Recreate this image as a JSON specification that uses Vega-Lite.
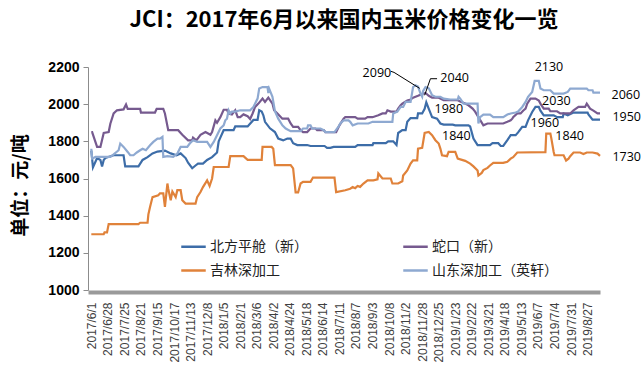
{
"$schema": "https://vega.github.io/schema/vega-lite/v6.json",
"width": 512, "height": 223,
"autosize": {"type": "none"},
"padding": {"left": 88, "top": 67, "right": 43, "bottom": 76},
"background": "white",
"config": {"view": {"stroke": null}},
"title": {"text": "JCI：2017年6月以来国内玉米价格变化一览", "font": "Noto Sans CJK SC", "fontSize": 22, "fontWeight": "bold", "color": "#000000", "frame": "group", "anchor": "middle", "offset": 28},
"datasets": {
"prices": [
{"s":"北方平舱（新）","d":0,"p":1750},{"s":"北方平舱（新）","d":2,"p":1660},{"s":"北方平舱（新）","d":5,"p":1690},{"s":"北方平舱（新）","d":7,"p":1710},{"s":"北方平舱（新）","d":11,"p":1700},{"s":"北方平舱（新）","d":13,"p":1665},{"s":"北方平舱（新）","d":15,"p":1700},{"s":"北方平舱（新）","d":17,"p":1710},{"s":"北方平舱（新）","d":27,"p":1725},{"s":"北方平舱（新）","d":39,"p":1725},{"s":"北方平舱（新）","d":41,"p":1665},{"s":"北方平舱（新）","d":57,"p":1665},{"s":"北方平舱（新）","d":62,"p":1700},{"s":"北方平舱（新）","d":68,"p":1715},{"s":"北方平舱（新）","d":74,"p":1735},{"s":"北方平舱（新）","d":80,"p":1745},{"s":"北方平舱（新）","d":89,"p":1750},{"s":"北方平舱（新）","d":96,"p":1735},{"s":"北方平舱（新）","d":103,"p":1725},{"s":"北方平舱（新）","d":108,"p":1735},{"s":"北方平舱（新）","d":114,"p":1710},{"s":"北方平舱（新）","d":117,"p":1685},{"s":"北方平舱（新）","d":122,"p":1655},{"s":"北方平舱（新）","d":126,"p":1670},{"s":"北方平舱（新）","d":129,"p":1680},{"s":"北方平舱（新）","d":135,"p":1680},{"s":"北方平舱（新）","d":140,"p":1700},{"s":"北方平舱（新）","d":146,"p":1715},{"s":"北方平舱（新）","d":152,"p":1740},{"s":"北方平舱（新）","d":154,"p":1800},{"s":"北方平舱（新）","d":156,"p":1820},{"s":"北方平舱（新）","d":160,"p":1860},{"s":"北方平舱（新）","d":172,"p":1860},{"s":"北方平舱（新）","d":174,"p":1880},{"s":"北方平舱（新）","d":189,"p":1880},{"s":"北方平舱（新）","d":196,"p":1915},{"s":"北方平舱（新）","d":201,"p":1915},{"s":"北方平舱（新）","d":203,"p":1967},{"s":"北方平舱（新）","d":206,"p":1960},{"s":"北方平舱（新）","d":208,"p":1940},{"s":"北方平舱（新）","d":210,"p":1905},{"s":"北方平舱（新）","d":216,"p":1870},{"s":"北方平舱（新）","d":222,"p":1850},{"s":"北方平舱（新）","d":226,"p":1815},{"s":"北方平舱（新）","d":232,"p":1805},{"s":"北方平舱（新）","d":237,"p":1815},{"s":"北方平舱（新）","d":241,"p":1815},{"s":"北方平舱（新）","d":244,"p":1790},{"s":"北方平舱（新）","d":249,"p":1780},{"s":"北方平舱（新）","d":261,"p":1780},{"s":"北方平舱（新）","d":265,"p":1775},{"s":"北方平舱（新）","d":282,"p":1775},{"s":"北方平舱（新）","d":285,"p":1765},{"s":"北方平舱（新）","d":289,"p":1765},{"s":"北方平舱（新）","d":293,"p":1770},{"s":"北方平舱（新）","d":319,"p":1770},{"s":"北方平舱（新）","d":322,"p":1780},{"s":"北方平舱（新）","d":340,"p":1780},{"s":"北方平舱（新）","d":341,"p":1790},{"s":"北方平舱（新）","d":356,"p":1790},{"s":"北方平舱（新）","d":359,"p":1800},{"s":"北方平舱（新）","d":365,"p":1800},{"s":"北方平舱（新）","d":369,"p":1780},{"s":"北方平舱（新）","d":371,"p":1845},{"s":"北方平舱（新）","d":376,"p":1860},{"s":"北方平舱（新）","d":380,"p":1860},{"s":"北方平舱（新）","d":382,"p":1905},{"s":"北方平舱（新）","d":386,"p":1925},{"s":"北方平舱（新）","d":394,"p":1925},{"s":"北方平舱（新）","d":395,"p":1950},{"s":"北方平舱（新）","d":400,"p":1950},{"s":"北方平舱（新）","d":403,"p":1975},{"s":"北方平舱（新）","d":405,"p":2010},{"s":"北方平舱（新）","d":408,"p":1975},{"s":"北方平舱（新）","d":412,"p":1930},{"s":"北方平舱（新）","d":418,"p":1922},{"s":"北方平舱（新）","d":422,"p":1896},{"s":"北方平舱（新）","d":426,"p":1890},{"s":"北方平舱（新）","d":437,"p":1890},{"s":"北方平舱（新）","d":440,"p":1886},{"s":"北方平舱（新）","d":456,"p":1886},{"s":"北方平舱（新）","d":458,"p":1880},{"s":"北方平舱（新）","d":462,"p":1815},{"s":"北方平舱（新）","d":467,"p":1780},{"s":"北方平舱（新）","d":482,"p":1780},{"s":"北方平舱（新）","d":485,"p":1790},{"s":"北方平舱（新）","d":492,"p":1790},{"s":"北方平舱（新）","d":495,"p":1775},{"s":"北方平舱（新）","d":498,"p":1775},{"s":"北方平舱（新）","d":503,"p":1806},{"s":"北方平舱（新）","d":507,"p":1833},{"s":"北方平舱（新）","d":513,"p":1833},{"s":"北方平舱（新）","d":516,"p":1848},{"s":"北方平舱（新）","d":521,"p":1878},{"s":"北方平舱（新）","d":525,"p":1878},{"s":"北方平舱（新）","d":528,"p":1913},{"s":"北方平舱（新）","d":533,"p":1958},{"s":"北方平舱（新）","d":537,"p":1985},{"s":"北方平舱（新）","d":541,"p":1985},{"s":"北方平舱（新）","d":543,"p":1965},{"s":"北方平舱（新）","d":547,"p":1940},{"s":"北方平舱（新）","d":559,"p":1940},{"s":"北方平舱（新）","d":563,"p":1930},{"s":"北方平舱（新）","d":570,"p":1930},{"s":"北方平舱（新）","d":571,"p":1950},{"s":"北方平舱（新）","d":576,"p":1940},{"s":"北方平舱（新）","d":583,"p":1955},{"s":"北方平舱（新）","d":600,"p":1955},{"s":"北方平舱（新）","d":601,"p":1945},{"s":"北方平舱（新）","d":606,"p":1917},{"s":"北方平舱（新）","d":615,"p":1917},
{"s":"蛇口（新）","d":0,"p":1850},{"s":"蛇口（新）","d":1,"p":1850},{"s":"蛇口（新）","d":7,"p":1770},{"s":"蛇口（新）","d":11,"p":1770},{"s":"蛇口（新）","d":15,"p":1845},{"s":"蛇口（新）","d":21,"p":1850},{"s":"蛇口（新）","d":23,"p":1895},{"s":"蛇口（新）","d":27,"p":1950},{"s":"蛇口（新）","d":31,"p":1967},{"s":"蛇口（新）","d":39,"p":1972},{"s":"蛇口（新）","d":42,"p":1998},{"s":"蛇口（新）","d":44,"p":1975},{"s":"蛇口（新）","d":59,"p":1975},{"s":"蛇口（新）","d":60,"p":1955},{"s":"蛇口（新）","d":77,"p":1955},{"s":"蛇口（新）","d":79,"p":1975},{"s":"蛇口（新）","d":87,"p":1975},{"s":"蛇口（新）","d":89,"p":1950},{"s":"蛇口（新）","d":93,"p":1860},{"s":"蛇口（新）","d":105,"p":1860},{"s":"蛇口（新）","d":110,"p":1835},{"s":"蛇口（新）","d":117,"p":1805},{"s":"蛇口（新）","d":122,"p":1805},{"s":"蛇口（新）","d":123,"p":1820},{"s":"蛇口（新）","d":127,"p":1805},{"s":"蛇口（新）","d":132,"p":1835},{"s":"蛇口（新）","d":138,"p":1850},{"s":"蛇口（新）","d":144,"p":1835},{"s":"蛇口（新）","d":146,"p":1850},{"s":"蛇口（新）","d":150,"p":1913},{"s":"蛇口（新）","d":152,"p":1900},{"s":"蛇口（新）","d":156,"p":1930},{"s":"蛇口（新）","d":160,"p":1970},{"s":"蛇口（新）","d":164,"p":1970},{"s":"蛇口（新）","d":166,"p":1950},{"s":"蛇口（新）","d":170,"p":1945},{"s":"蛇口（新）","d":174,"p":1967},{"s":"蛇口（新）","d":177,"p":1930},{"s":"蛇口（新）","d":180,"p":1930},{"s":"蛇口（新）","d":184,"p":1945},{"s":"蛇口（新）","d":189,"p":1935},{"s":"蛇口（新）","d":192,"p":1920},{"s":"蛇口（新）","d":195,"p":1950},{"s":"蛇口（新）","d":198,"p":1985},{"s":"蛇口（新）","d":202,"p":2003},{"s":"蛇口（新）","d":207,"p":2030},{"s":"蛇口（新）","d":210,"p":2012},{"s":"蛇口（新）","d":214,"p":2035},{"s":"蛇口（新）","d":219,"p":2003},{"s":"蛇口（新）","d":221,"p":1967},{"s":"蛇口（新）","d":225,"p":1950},{"s":"蛇口（新）","d":231,"p":1922},{"s":"蛇口（新）","d":238,"p":1922},{"s":"蛇口（新）","d":241,"p":1896},{"s":"蛇口（新）","d":244,"p":1878},{"s":"蛇口（新）","d":250,"p":1878},{"s":"蛇口（新）","d":253,"p":1860},{"s":"蛇口（新）","d":256,"p":1850},{"s":"蛇口（新）","d":261,"p":1850},{"s":"蛇口（新）","d":265,"p":1869},{"s":"蛇口（新）","d":271,"p":1869},{"s":"蛇口（新）","d":273,"p":1860},{"s":"蛇口（新）","d":281,"p":1860},{"s":"蛇口（新）","d":283,"p":1850},{"s":"蛇口（新）","d":296,"p":1850},{"s":"蛇口（新）","d":300,"p":1886},{"s":"蛇口（新）","d":305,"p":1922},{"s":"蛇口（新）","d":307,"p":1930},{"s":"蛇口（新）","d":319,"p":1930},{"s":"蛇口（新）","d":322,"p":1922},{"s":"蛇口（新）","d":331,"p":1922},{"s":"蛇口（新）","d":334,"p":1930},{"s":"蛇口（新）","d":340,"p":1930},{"s":"蛇口（新）","d":347,"p":1940},{"s":"蛇口（新）","d":352,"p":1950},{"s":"蛇口（新）","d":356,"p":1950},{"s":"蛇口（新）","d":358,"p":1967},{"s":"蛇口（新）","d":362,"p":1960},{"s":"蛇口（新）","d":369,"p":1960},{"s":"蛇口（新）","d":371,"p":1976},{"s":"蛇口（新）","d":374,"p":1994},{"s":"蛇口（新）","d":376,"p":2003},{"s":"蛇口（新）","d":382,"p":2020},{"s":"蛇口（新）","d":386,"p":2025},{"s":"蛇口（新）","d":389,"p":2035},{"s":"蛇口（新）","d":395,"p":2045},{"s":"蛇口（新）","d":400,"p":2055},{"s":"蛇口（新）","d":404,"p":2060},{"s":"蛇口（新）","d":408,"p":2045},{"s":"蛇口（新）","d":412,"p":2035},{"s":"蛇口（新）","d":420,"p":2035},{"s":"蛇口（新）","d":426,"p":2021},{"s":"蛇口（新）","d":443,"p":2021},{"s":"蛇口（新）","d":446,"p":2015},{"s":"蛇口（新）","d":452,"p":2003},{"s":"蛇口（新）","d":456,"p":1994},{"s":"蛇口（新）","d":461,"p":1976},{"s":"蛇口（新）","d":464,"p":1960},{"s":"蛇口（新）","d":468,"p":1930},{"s":"蛇口（新）","d":474,"p":1886},{"s":"蛇口（新）","d":479,"p":1896},{"s":"蛇口（新）","d":498,"p":1896},{"s":"蛇口（新）","d":503,"p":1905},{"s":"蛇口（新）","d":507,"p":1913},{"s":"蛇口（新）","d":509,"p":1922},{"s":"蛇口（新）","d":510,"p":1930},{"s":"蛇口（新）","d":515,"p":1950},{"s":"蛇口（新）","d":519,"p":1950},{"s":"蛇口（新）","d":522,"p":1965},{"s":"蛇口（新）","d":525,"p":1976},{"s":"蛇口（新）","d":527,"p":2003},{"s":"蛇口（新）","d":531,"p":2030},{"s":"蛇口（新）","d":537,"p":2030},{"s":"蛇口（新）","d":541,"p":2020},{"s":"蛇口（新）","d":543,"p":2003},{"s":"蛇口（新）","d":547,"p":1976},{"s":"蛇口（新）","d":553,"p":1976},{"s":"蛇口（新）","d":555,"p":1962},{"s":"蛇口（新）","d":563,"p":1962},{"s":"蛇口（新）","d":567,"p":1950},{"s":"蛇口（新）","d":579,"p":1950},{"s":"蛇口（新）","d":583,"p":1967},{"s":"蛇口（新）","d":589,"p":1985},{"s":"蛇口（新）","d":597,"p":1985},{"s":"蛇口（新）","d":599,"p":2003},{"s":"蛇口（新）","d":603,"p":1976},{"s":"蛇口（新）","d":607,"p":1965},{"s":"蛇口（新）","d":612,"p":1950},{"s":"蛇口（新）","d":615,"p":1950},
{"s":"吉林深加工","d":0,"p":1300},{"s":"吉林深加工","d":15,"p":1300},{"s":"吉林深加工","d":16,"p":1310},{"s":"吉林深加工","d":19,"p":1310},{"s":"吉林深加工","d":21,"p":1355},{"s":"吉林深加工","d":57,"p":1355},{"s":"吉林深加工","d":59,"p":1362},{"s":"吉林深加工","d":68,"p":1362},{"s":"吉林深加工","d":69,"p":1407},{"s":"吉林深加工","d":71,"p":1447},{"s":"吉林深加工","d":74,"p":1500},{"s":"吉林深加工","d":81,"p":1510},{"s":"吉林深加工","d":83,"p":1520},{"s":"吉林深加工","d":87,"p":1520},{"s":"吉林深加工","d":89,"p":1447},{"s":"吉林深加工","d":92,"p":1573},{"s":"吉林深加工","d":93,"p":1545},{"s":"吉林深加工","d":96,"p":1483},{"s":"吉林深加工","d":98,"p":1530},{"s":"吉林深加工","d":102,"p":1500},{"s":"吉林深加工","d":104,"p":1537},{"s":"吉林深加工","d":108,"p":1537},{"s":"吉林深加工","d":110,"p":1483},{"s":"吉林深加工","d":114,"p":1465},{"s":"吉林深加工","d":126,"p":1465},{"s":"吉林深加工","d":128,"p":1500},{"s":"吉林深加工","d":132,"p":1527},{"s":"吉林深加工","d":135,"p":1554},{"s":"吉林深加工","d":140,"p":1590},{"s":"吉林深加工","d":143,"p":1560},{"s":"吉林深加工","d":146,"p":1600},{"s":"吉林深加工","d":148,"p":1662},{"s":"吉林深加工","d":166,"p":1662},{"s":"吉林深加工","d":168,"p":1720},{"s":"吉林深加工","d":184,"p":1720},{"s":"吉林深加工","d":189,"p":1700},{"s":"吉林深加工","d":206,"p":1700},{"s":"吉林深加工","d":207,"p":1770},{"s":"吉林深加工","d":218,"p":1770},{"s":"吉林深加工","d":220,"p":1760},{"s":"吉林深加工","d":222,"p":1672},{"s":"吉林深加工","d":241,"p":1672},{"s":"吉林深加工","d":244,"p":1654},{"s":"吉林深加工","d":247,"p":1525},{"s":"吉林深加工","d":250,"p":1525},{"s":"吉林深加工","d":253,"p":1573},{"s":"吉林深加工","d":256,"p":1582},{"s":"吉林深加工","d":265,"p":1582},{"s":"吉林深加工","d":268,"p":1605},{"s":"吉林深加工","d":294,"p":1605},{"s":"吉林深加工","d":296,"p":1527},{"s":"吉林深加工","d":307,"p":1537},{"s":"吉林深加工","d":313,"p":1545},{"s":"吉林深加工","d":316,"p":1554},{"s":"吉林深加工","d":319,"p":1548},{"s":"吉林深加工","d":322,"p":1560},{"s":"吉林深加工","d":325,"p":1555},{"s":"吉林深加工","d":329,"p":1573},{"s":"吉林深加工","d":334,"p":1590},{"s":"吉林深加工","d":341,"p":1590},{"s":"吉林深加工","d":346,"p":1595},{"s":"吉林深加工","d":347,"p":1627},{"s":"吉林深加工","d":352,"p":1600},{"s":"吉林深加工","d":362,"p":1600},{"s":"吉林深加工","d":364,"p":1573},{"s":"吉林深加工","d":371,"p":1573},{"s":"吉林深加工","d":376,"p":1585},{"s":"吉林深加工","d":377,"p":1616},{"s":"吉林深加工","d":382,"p":1643},{"s":"吉林深加工","d":386,"p":1680},{"s":"吉林深加工","d":389,"p":1698},{"s":"吉林深加工","d":394,"p":1698},{"s":"吉林深加工","d":395,"p":1760},{"s":"吉林深加工","d":400,"p":1765},{"s":"吉林深加工","d":403,"p":1845},{"s":"吉林深加工","d":408,"p":1850},{"s":"吉林深加工","d":412,"p":1833},{"s":"吉林深加工","d":416,"p":1806},{"s":"吉林深加工","d":420,"p":1788},{"s":"吉林深加工","d":422,"p":1761},{"s":"吉林深加工","d":424,"p":1725},{"s":"吉林深加工","d":430,"p":1720},{"s":"吉林深加工","d":432,"p":1743},{"s":"吉林深加工","d":440,"p":1743},{"s":"吉林深加工","d":443,"p":1707},{"s":"吉林深加工","d":452,"p":1695},{"s":"吉林深加工","d":458,"p":1680},{"s":"吉林深加工","d":462,"p":1665},{"s":"吉林深加工","d":467,"p":1643},{"s":"吉林深加工","d":468,"p":1616},{"s":"吉林深加工","d":472,"p":1630},{"s":"吉林深加工","d":474,"p":1645},{"s":"吉林深加工","d":479,"p":1657},{"s":"吉林深加工","d":482,"p":1670},{"s":"吉林深加工","d":486,"p":1684},{"s":"吉林深加工","d":498,"p":1684},{"s":"吉林深加工","d":503,"p":1690},{"s":"吉林深加工","d":507,"p":1707},{"s":"吉林深加工","d":510,"p":1715},{"s":"吉林深加工","d":515,"p":1740},{"s":"吉林深加工","d":549,"p":1742},{"s":"吉林深加工","d":550,"p":1842},{"s":"吉林深加工","d":555,"p":1842},{"s":"吉林深加工","d":556,"p":1820},{"s":"吉林深加工","d":559,"p":1743},{"s":"吉林深加工","d":560,"p":1725},{"s":"吉林深加工","d":571,"p":1725},{"s":"吉林深加工","d":574,"p":1697},{"s":"吉林深加工","d":577,"p":1707},{"s":"吉林深加工","d":579,"p":1720},{"s":"吉林深加工","d":583,"p":1740},{"s":"吉林深加工","d":591,"p":1740},{"s":"吉林深加工","d":595,"p":1732},{"s":"吉林深加工","d":599,"p":1740},{"s":"吉林深加工","d":606,"p":1740},{"s":"吉林深加工","d":612,"p":1734},{"s":"吉林深加工","d":615,"p":1722},
{"s":"山东深加工（英轩）","d":0,"p":1760},{"s":"山东深加工（英轩）","d":1,"p":1707},{"s":"山东深加工（英轩）","d":5,"p":1716},{"s":"山东深加工（英轩）","d":23,"p":1716},{"s":"山东深加工（英轩）","d":27,"p":1730},{"s":"山东深加工（英轩）","d":33,"p":1752},{"s":"山东深加工（英轩）","d":35,"p":1788},{"s":"山东深加工（英轩）","d":39,"p":1770},{"s":"山东深加工（英轩）","d":44,"p":1743},{"s":"山东深加工（英轩）","d":47,"p":1725},{"s":"山东深加工（英轩）","d":51,"p":1725},{"s":"山东深加工（英轩）","d":55,"p":1740},{"s":"山东深加工（英轩）","d":59,"p":1752},{"s":"山东深加工（英轩）","d":62,"p":1760},{"s":"山东深加工（英轩）","d":66,"p":1752},{"s":"山东深加工（英轩）","d":71,"p":1779},{"s":"山东深加工（英轩）","d":75,"p":1797},{"s":"山东深加工（英轩）","d":80,"p":1815},{"s":"山东深加工（英轩）","d":83,"p":1815},{"s":"山东深加工（英轩）","d":86,"p":1824},{"s":"山东深加工（英轩）","d":87,"p":1716},{"s":"山东深加工（英轩）","d":92,"p":1720},{"s":"山东深加工（英轩）","d":99,"p":1716},{"s":"山东深加工（英轩）","d":104,"p":1734},{"s":"山东深加工（英轩）","d":108,"p":1770},{"s":"山东深加工（英轩）","d":116,"p":1770},{"s":"山东深加工（英轩）","d":119,"p":1788},{"s":"山东深加工（英轩）","d":123,"p":1806},{"s":"山东深加工（英轩）","d":128,"p":1797},{"s":"山东深加工（英轩）","d":140,"p":1797},{"s":"山东深加工（英轩）","d":144,"p":1770},{"s":"山东深加工（英轩）","d":148,"p":1797},{"s":"山东深加工（英轩）","d":152,"p":1833},{"s":"山东深加工（英轩）","d":156,"p":1869},{"s":"山东深加工（英轩）","d":160,"p":1886},{"s":"山东深加工（英轩）","d":162,"p":1913},{"s":"山东深加工（英轩）","d":164,"p":1922},{"s":"山东深加工（英轩）","d":166,"p":1967},{"s":"山东深加工（英轩）","d":168,"p":1950},{"s":"山东深加工（英轩）","d":170,"p":1960},{"s":"山东深加工（英轩）","d":174,"p":1960},{"s":"山东深加工（英轩）","d":180,"p":1967},{"s":"山东深加工（英轩）","d":192,"p":1967},{"s":"山东深加工（英轩）","d":196,"p":1985},{"s":"山东深加工（英轩）","d":201,"p":2030},{"s":"山东深加工（英轩）","d":203,"p":2084},{"s":"山东深加工（英轩）","d":207,"p":2092},{"s":"山东深加工（英轩）","d":213,"p":2092},{"s":"山东深加工（英轩）","d":214,"p":2060},{"s":"山东深加工（英轩）","d":215,"p":2084},{"s":"山东深加工（英轩）","d":219,"p":2040},{"s":"山东深加工（英轩）","d":222,"p":1962},{"s":"山东深加工（英轩）","d":226,"p":1922},{"s":"山东深加工（英轩）","d":231,"p":1886},{"s":"山东深加工（英轩）","d":235,"p":1869},{"s":"山东深加工（英轩）","d":241,"p":1855},{"s":"山东深加工（英轩）","d":253,"p":1855},{"s":"山东深加工（英轩）","d":256,"p":1869},{"s":"山东深加工（英轩）","d":261,"p":1869},{"s":"山东深加工（英轩）","d":262,"p":1886},{"s":"山东深加工（英轩）","d":265,"p":1886},{"s":"山东深加工（英轩）","d":267,"p":1869},{"s":"山东深加工（英轩）","d":277,"p":1869},{"s":"山东深加工（英轩）","d":281,"p":1860},{"s":"山东深加工（英轩）","d":283,"p":1850},{"s":"山东深加工（英轩）","d":294,"p":1850},{"s":"山东深加工（英轩）","d":299,"p":1880},{"s":"山东深加工（英轩）","d":301,"p":1896},{"s":"山东深加工（英轩）","d":305,"p":1913},{"s":"山东深加工（英轩）","d":311,"p":1913},{"s":"山东深加工（英轩）","d":313,"p":1905},{"s":"山东深加工（英轩）","d":316,"p":1886},{"s":"山东深加工（英轩）","d":322,"p":1896},{"s":"山东深加工（英轩）","d":335,"p":1896},{"s":"山东深加工（英轩）","d":340,"p":1905},{"s":"山东深加工（英轩）","d":364,"p":1905},{"s":"山东深加工（英轩）","d":365,"p":1950},{"s":"山东深加工（英轩）","d":370,"p":1960},{"s":"山东深加工（英轩）","d":374,"p":1985},{"s":"山东深加工（英轩）","d":377,"p":1985},{"s":"山东深加工（英轩）","d":380,"p":2012},{"s":"山东深加工（英轩）","d":386,"p":2012},{"s":"山东深加工（英轩）","d":389,"p":2092},{"s":"山东深加工（英轩）","d":392,"p":2102},{"s":"山东深加工（英轩）","d":395,"p":2095},{"s":"山东深加工（英轩）","d":398,"p":2057},{"s":"山东深加工（英轩）","d":400,"p":2040},{"s":"山东深加工（英轩）","d":401,"p":2070},{"s":"山东深加工（英轩）","d":404,"p":2092},{"s":"山东深加工（英轩）","d":408,"p":2085},{"s":"山东深加工（英轩）","d":412,"p":2048},{"s":"山东深加工（英轩）","d":416,"p":2040},{"s":"山东深加工（英轩）","d":422,"p":2040},{"s":"山东深加工（英轩）","d":426,"p":2030},{"s":"山东深加工（英轩）","d":434,"p":2025},{"s":"山东深加工（英轩）","d":443,"p":2025},{"s":"山东深加工（英轩）","d":444,"p":2040},{"s":"山东深加工（英轩）","d":446,"p":2030},{"s":"山东深加工（英轩）","d":450,"p":2003},{"s":"山东深加工（英轩）","d":467,"p":2003},{"s":"山东深加工（英轩）","d":468,"p":1896},{"s":"山东深加工（英轩）","d":470,"p":1930},{"s":"山东深加工（英轩）","d":474,"p":1944},{"s":"山东深加工（英轩）","d":482,"p":1944},{"s":"山东深加工（英轩）","d":486,"p":1930},{"s":"山东深加工（英轩）","d":498,"p":1930},{"s":"山东深加工（英轩）","d":503,"p":1944},{"s":"山东深加工（英轩）","d":507,"p":1950},{"s":"山东深加工（英轩）","d":513,"p":1955},{"s":"山东深加工（英轩）","d":516,"p":1960},{"s":"山东深加工（英轩）","d":521,"p":1985},{"s":"山东深加工（英轩）","d":525,"p":2012},{"s":"山东深加工（英轩）","d":528,"p":2040},{"s":"山东深加工（英轩）","d":533,"p":2066},{"s":"山东深加工（英轩）","d":536,"p":2125},{"s":"山东深加工（英轩）","d":541,"p":2125},{"s":"山东深加工（英轩）","d":543,"p":2084},{"s":"山东深加工（英轩）","d":547,"p":2075},{"s":"山东深加工（英轩）","d":555,"p":2075},{"s":"山东深加工（英轩）","d":559,"p":2057},{"s":"山东深加工（英轩）","d":571,"p":2057},{"s":"山东深加工（英轩）","d":576,"p":2066},{"s":"山东深加工（英轩）","d":579,"p":2084},{"s":"山东深加工（英轩）","d":599,"p":2084},{"s":"山东深加工（英轩）","d":601,"p":2075},{"s":"山东深加工（英轩）","d":606,"p":2075},{"s":"山东深加工（英轩）","d":607,"p":2062},{"s":"山东深加工（英轩）","d":615,"p":2062}
],
"notes": [
{"d":328,"p":2166,"t":"2090"},{"d":422,"p":2139,"t":"2040"},{"d":415,"p":1973,"t":"1980"},{"d":424,"p":1827,"t":"1840"},
{"d":536,"p":2198,"t":"2130"},{"d":545,"p":2016,"t":"2030"},{"d":531,"p":1900,"t":"1960"},{"d":561,"p":1827,"t":"1840"},
{"d":629,"p":2048,"t":"2060"},{"d":630,"p":1930,"t":"1950"},{"d":630,"p":1715,"t":"1730"}
],
"leaders": [
{"g":"a","o":1,"d":362,"p":2177},{"g":"a","o":2,"d":366,"p":2171},{"g":"a","o":3,"d":397,"p":2085},
{"g":"b","o":1,"d":418,"p":2137},{"g":"b","o":2,"d":410,"p":2137},{"g":"b","o":3,"d":403,"p":2048}
]
},
"encoding": {
"x": {"field": "d", "type": "quantitative", "scale": {"domain": [-4, 615], "nice": false, "zero": false},
  "axis": {"values": [0,20,40,60,80,100,120,140,160,180,200,220,240,260,280,300,320,340,360,380,400,420,440,460,480,500,520,540,560,580,600],
  "labelExpr": "['2017/6/1','2017/6/28','2017/7/25','2017/8/21','2017/9/15','2017/10/17','2017/11/13','2017/12/8','2018/1/5','2018/2/1','2018/3/6','2018/4/2','2018/4/24','2018/5/18','2018/6/14','2018/7/11','2018/8/7','2018/9/3','2018/10/8','2018/11/2','2018/11/28','2018/12/25','2019/1/23','2019/2/22','2019/3/21','2019/4/18','2019/5/13','2019/6/7','2019/7/4','2019/7/31','2019/8/27'][round(datum.value/20)]",
  "labelAngle": -90, "labelFont": "Liberation Sans", "labelFontSize": 12, "labelColor": "#404040", "labelPadding": 10, "labelOverlap": false, "labelFlush": false,
  "ticks": false, "grid": false, "domainColor": "#9a9a9a", "domainWidth": 4, "offset": 2, "title": null}},
"y": {"field": "p", "type": "quantitative", "scale": {"domain": [1000, 2200], "nice": false, "zero": false},
  "axis": {"values": [1000,1200,1400,1600,1800,2000,2200], "format": "d", "labelFont": "Liberation Sans", "labelFontSize": 14, "labelFontWeight": "bold", "labelColor": "#000000", "labelPadding": 4,
  "ticks": true, "tickSize": 5, "tickColor": "#8c8c8c", "domainColor": "#8c8c8c", "grid": false,
  "title": "单位：元/吨", "titleFont": "Noto Sans CJK SC", "titleFontSize": 19, "titleFontWeight": "bold", "titleColor": "#000000", "titleAngle": 270, "titleX": -68, "titleY": 118, "titleAlign": "center", "titleBaseline": "middle"}}
},
"layer": [
{"data": {"name": "prices"},
 "mark": {"type": "line", "strokeWidth": 2.2},
 "encoding": {"color": {"field": "s", "type": "nominal",
   "scale": {"domain": ["北方平舱（新）","吉林深加工","蛇口（新）","山东深加工（英轩）"], "range": ["#3D6DA8","#E0823A","#765A8F","#8EA9D1"]},
   "legend": {"orient": "none", "legendX": 92, "legendY": 166, "columns": 2, "columnPadding": 90, "rowPadding": 3, "padding": 0,
     "symbolType": "stroke", "symbolSize": 600, "symbolStrokeWidth": 2.5, "labelFont": "Noto Sans CJK SC", "labelFontSize": 14, "labelColor": "#222222", "labelOffset": 3, "title": null, "labelLimit": 300}},
   "order": {"field": "d", "type": "quantitative"}}},
{"data": {"name": "leaders"},
 "mark": {"type": "line", "color": "#000000", "strokeWidth": 1},
 "encoding": {"detail": {"field": "g", "type": "nominal"}, "order": {"field": "o", "type": "quantitative"}}},
{"data": {"name": "notes"},
 "mark": {"type": "text", "align": "left", "baseline": "middle", "font": "Open Sans", "fontSize": 12.5, "color": "#000000"},
 "encoding": {"text": {"field": "t", "type": "nominal"}}}
]
}
